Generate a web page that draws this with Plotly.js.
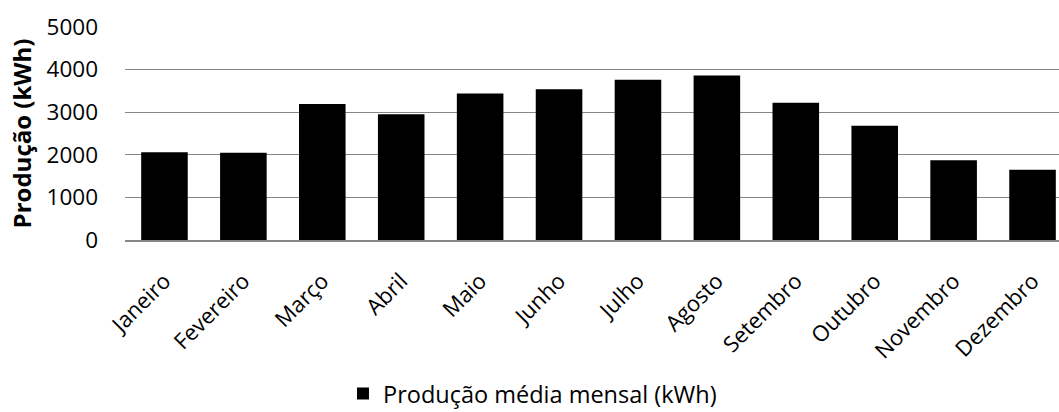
<!DOCTYPE html>
<html>
<head>
<meta charset="utf-8">
<script src="https://cdn.plot.ly/plotly-3.0.1.min.js"></script>
<style>html,body{margin:0;padding:0;background:#fff;overflow:hidden;}#chart{width:1074px;height:412px;}</style>
</head>
<body>
<div id="chart"></div>
<script>
const months = ["Janeiro","Fevereiro","Março","Abril","Maio","Junho","Julho","Agosto","Setembro","Outubro","Novembro","Dezembro"];
const producao = [2060, 2050, 3190, 2950, 3440, 3540, 3760, 3860, 3220, 2680, 1870, 1650];
const yTicks = [0, 1000, 2000, 3000, 4000, 5000];
const seriesName = "Produção média mensal (kWh)";
const yTitle = "Produção (kWh)";

const FONT = "Open Sans, Calibri, Carlito, sans-serif";

const trace = {
  type: "bar",
  x: months,
  y: producao,
  name: seriesName,
  marker: {color: "#000000", line: {width: 0}},
  showlegend: true,
  hoverinfo: "x+y"
};

const layout = {
  width: 1074,
  height: 412,
  margin: {l: 125, r: 2, t: 27, b: 172, autoexpand: false},
  paper_bgcolor: "#ffffff",
  plot_bgcolor: "#ffffff",
  font: {family: FONT, size: 22, color: "#000000"},
  bargap: 0.41,
  showlegend: true,
  xaxis: {
    type: "category",
    tickangle: -45,
    showgrid: false,
    showline: true,
    linecolor: "#868686",
    linewidth: 1.5,
    ticks: "",
    ticklabelstandoff: 18,
    tickfont: {family: FONT, size: 22, color: "#000"},
    fixedrange: true
  },
  yaxis: {
    range: [0, 5000],
    tickvals: yTicks,
    ticktext: yTicks.map(String),
    showgrid: true,
    gridcolor: "#868686",
    gridwidth: 1.2,
    zeroline: false,
    showline: false,
    ticks: "",
    ticklabelstandoff: 26,
    tickfont: {family: FONT, size: 22.5, color: "#000"},
    title: {text: yTitle, font: {family: FONT, size: 24, color: "#000", weight: "bold"}, standoff: 8},
    fixedrange: true
  },
  legend: {
    orientation: "h",
    x: 0.2302,
    xanchor: "left",
    y: -0.722,
    yanchor: "middle",
    font: {family: FONT, size: 23.5, color: "#000"},
    itemwidth: 30,
    bgcolor: "rgba(0,0,0,0)"
  }
};

Plotly.newPlot("chart", [trace], layout, {displayModeBar: false, staticPlot: true});
</script>
</body>
</html>
